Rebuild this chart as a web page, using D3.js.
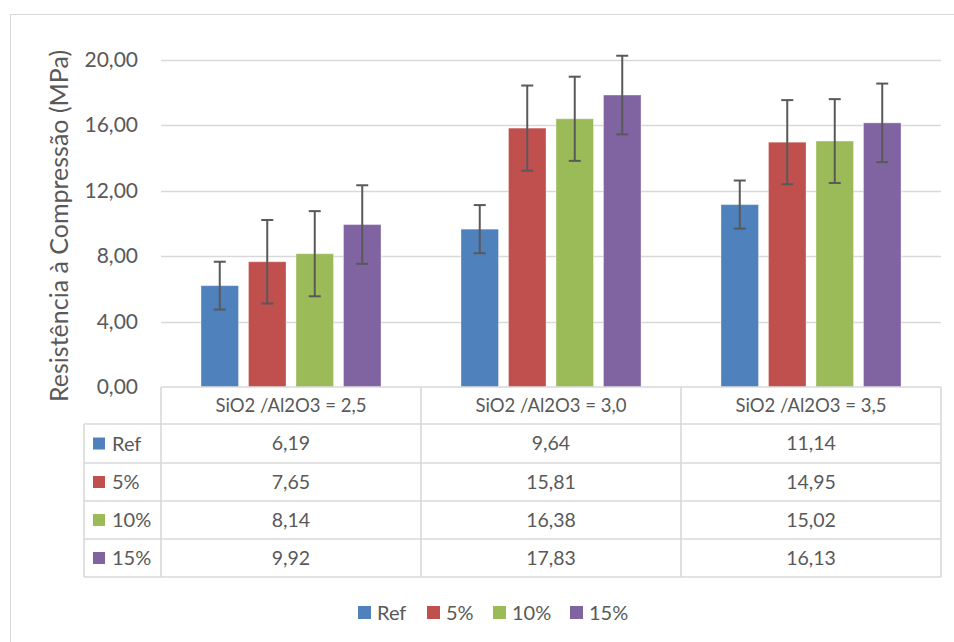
<!DOCTYPE html>
<html>
<head>
<meta charset="utf-8">
<script src="https://cdn.jsdelivr.net/npm/d3@7"></script>
<style>
  html, body { margin: 0; padding: 0; background: #fff; }
  svg { display: block; }
  text { font-family: Lato, "Open Sans", sans-serif; fill: #595959; }
</style>
</head>
<body>
<svg id="chart" width="954" height="642"></svg>
<script>
// ---- data ----
const categories = ["SiO2 /Al2O3 = 2,5", "SiO2 /Al2O3 = 3,0", "SiO2 /Al2O3 = 3,5"];
const seriesNames = ["Ref", "5%", "10%", "15%"];
const seriesColors = ["#4F81BD", "#C0504D", "#9BBB59", "#8064A2"];
const valuesRef = [6.19, 9.64, 11.14];
const values5 = [7.65, 15.81, 14.95];
const values10 = [8.14, 16.38, 15.02];
const values15 = [9.92, 17.83, 16.13];
const errRef = [1.46, 1.47, 1.47];
const err5 = [2.55, 2.6, 2.57];
const err10 = [2.6, 2.57, 2.56];
const err15 = [2.4, 2.4, 2.4];
const yTicks = [0, 4, 8, 12, 16, 20];
const yTitle = "Resistência à Compressão (MPa)";

const seriesValues = [valuesRef, values5, values10, values15];
const seriesErrors = [errRef, err5, err10, err15];

const fmt = v => d3.format(".2f")(v).replace(".", ",");

const svg = d3.select("#chart");

// outer border
svg.append("rect").attr("x", 10.5).attr("y", 14.5).attr("width", 960).attr("height", 660)
  .attr("fill", "#fff").attr("stroke", "#D9D9D9").attr("stroke-width", 1);

const plotLeft = 161, plotRight = 941;
const x = d3.scaleBand().domain(categories).range([plotLeft, plotRight]);
const xInner = d3.scaleBand().domain(seriesNames).range([35, 225]).paddingInner(0.21).paddingOuter(0.105);
const y = d3.scaleLinear().domain([0, 20]).range([387, 59.5]);

// gridlines
svg.append("g").selectAll("line").data(yTicks.filter(t => t > 0)).join("line")
  .attr("x1", plotLeft).attr("x2", plotRight)
  .attr("y1", d => Math.round(y(d)) + 0.5).attr("y2", d => Math.round(y(d)) + 0.5)
  .attr("stroke", "#D9D9D9").attr("stroke-width", 1.3);

// y axis labels
const yAxis = d3.axisLeft(y).tickValues(yTicks).tickFormat(fmt).tickSize(0).tickPadding(0);
const gy = svg.append("g").attr("transform", "translate(138,0)").call(yAxis);
gy.select(".domain").remove();
gy.selectAll("text").style("font-family", "Lato, sans-serif").style("font-size", "21px").attr("fill", "#595959");

// y title
svg.append("text").attr("transform", "translate(68,226) rotate(-90)")
  .attr("text-anchor", "middle").style("font-size", "25px").text(yTitle);

// bars
const flat = [];
seriesNames.forEach((s, si) => categories.forEach((c, ci) => {
  flat.push({ s, si, c, v: seriesValues[si][ci], e: seriesErrors[si][ci] });
}));

svg.append("g").selectAll("rect").data(flat).join("rect")
  .attr("x", d => x(d.c) + xInner(d.s))
  .attr("width", xInner.bandwidth())
  .attr("y", d => y(d.v))
  .attr("height", d => y(0) - y(d.v))
  .attr("fill", d => seriesColors[d.si])
  .attr("stroke", "#fff").attr("stroke-opacity", 0.35).attr("stroke-width", 1);

// error bars
const eg = svg.append("g").attr("stroke", "#595959").attr("stroke-width", 2);
flat.forEach(d => {
  const cx = x(d.c) + xInner(d.s) + xInner.bandwidth() / 2;
  const y1 = y(d.v + d.e), y2 = y(d.v - d.e);
  eg.append("line").attr("x1", cx).attr("x2", cx).attr("y1", y1).attr("y2", y2);
  eg.append("line").attr("x1", cx - 6).attr("x2", cx + 6).attr("y1", y1).attr("y2", y1);
  eg.append("line").attr("x1", cx - 6).attr("x2", cx + 6).attr("y1", y2).attr("y2", y2);
});

// data table
const tableLeft = 84;
const rowLines = [387, 424, 463, 501, 539, 577];
const tg = svg.append("g").attr("stroke", "#D9D9D9").attr("stroke-width", 1.6);
rowLines.forEach((ry, i) => {
  tg.append("line").attr("x1", i === 0 ? plotLeft : tableLeft).attr("x2", plotRight)
    .attr("y1", ry).attr("y2", ry);
});
tg.append("line").attr("x1", tableLeft).attr("x2", tableLeft).attr("y1", rowLines[1]).attr("y2", rowLines[5]);
[plotLeft].concat(categories.map(c => x(c) + x.bandwidth())).forEach(vx => {
  tg.append("line").attr("x1", vx).attr("x2", vx).attr("y1", rowLines[0]).attr("y2", rowLines[5]);
});

// header text
svg.append("g").selectAll("text").data(categories).join("text")
  .attr("x", d => x(d) + x.bandwidth() / 2)
  .attr("y", (rowLines[0] + rowLines[1]) / 2)
  .attr("dy", "0.35em").attr("text-anchor", "middle")
  .style("font-size", "18.5px").text(d => d);

// rows
seriesNames.forEach((s, si) => {
  const cy = (rowLines[si + 1] + rowLines[si + 2]) / 2;
  svg.append("rect").attr("x", 93).attr("y", cy - 6).attr("width", 12).attr("height", 12)
    .attr("fill", seriesColors[si]);
  svg.append("text").attr("x", 112).attr("y", cy).attr("dy", "0.35em")
    .style("font-size", "20px").text(s);
  categories.forEach((c, ci) => {
    svg.append("text").attr("x", x(c) + x.bandwidth() / 2).attr("y", cy).attr("dy", "0.35em")
      .attr("text-anchor", "middle").style("font-size", "19.5px").text(fmt(seriesValues[si][ci]));
  });
});

// bottom legend
const legendX = [358, 427, 493, 570];
const lg = svg.append("g");
seriesNames.forEach((s, si) => {
  lg.append("rect").attr("x", legendX[si]).attr("y", 606).attr("width", 13).attr("height", 13)
    .attr("fill", seriesColors[si]);
  lg.append("text").attr("x", legendX[si] + 19).attr("y", 612.5).attr("dy", "0.35em")
    .style("font-size", "20px").text(s);
});
</script>
</body>
</html>
